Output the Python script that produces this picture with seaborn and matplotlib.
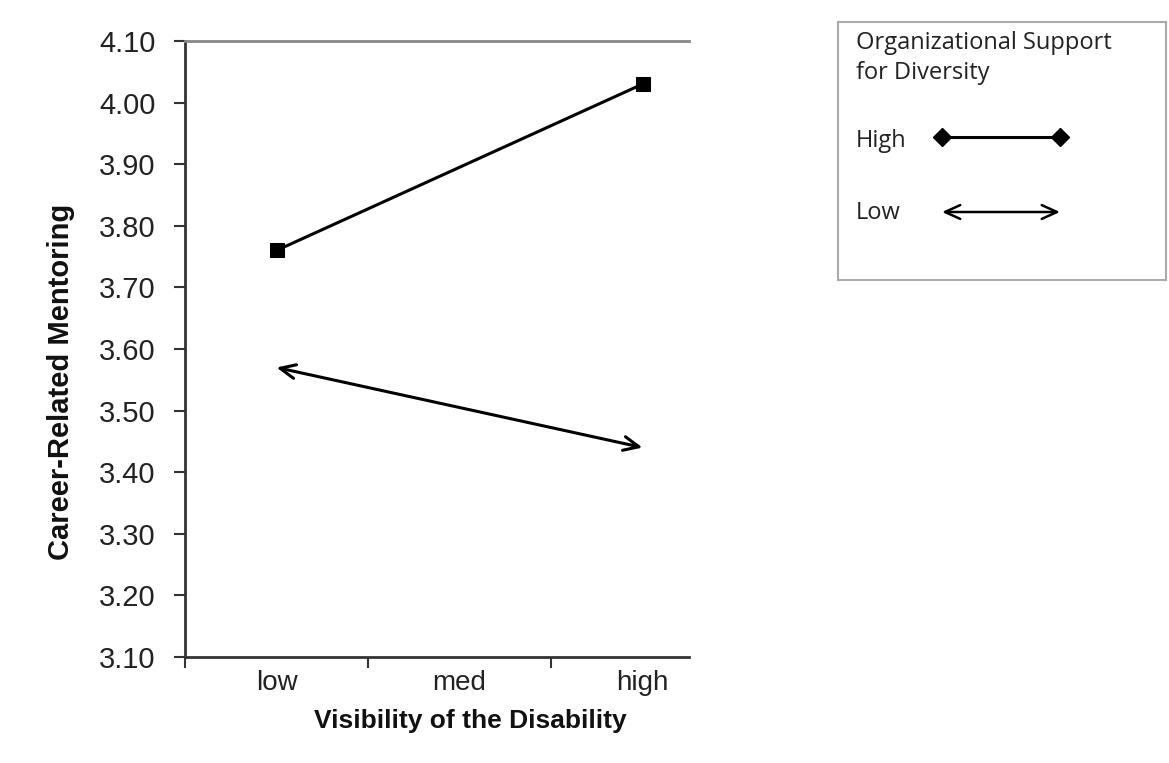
import pandas as pd
import seaborn as sns
from matplotlib import pyplot as plt
from matplotlib.ticker import FixedLocator

# data
visibility = ['low', 'med', 'high']
high_support = [3.76, None, 4.03]
low_support = [3.57, None, 3.44]
y_ticks = [3.10, 3.20, 3.30, 3.40, 3.50, 3.60, 3.70, 3.80, 3.90, 4.00, 4.10]

sns.set_style('white')
plt.rcParams['font.family'] = ['Liberation Sans', 'DejaVu Sans']

df_high = pd.DataFrame({'pos': [0, 2], 'value': [high_support[0], high_support[2]]})

fig = plt.figure(figsize=(11.69, 7.63), dpi=100)
ax = fig.add_axes([185 / 1169, 1 - 657 / 763, 504 / 1169, 616 / 763])

# high support: line with square markers
sns.lineplot(data=df_high, x='pos', y='value', ax=ax, color='black', lw=2.2,
             marker='s', markersize=10, markeredgecolor='black')

# low support: double arrow between the two points
ax.annotate('', xy=(2, low_support[2]), xytext=(0, low_support[0]),
            arrowprops=dict(arrowstyle='<->,head_length=1.1,head_width=0.5',
                            color='black', lw=2.2, shrinkA=0, shrinkB=0))

ax.set_xlim(-0.5, 2.254)
ax.set_ylim(3.10, 4.10)
ax.set_yticks(y_ticks)
ax.set_yticklabels([f'{v:.2f}' for v in y_ticks], fontsize=21, color='#222222')
ax.set_xticks([0, 1, 2])
ax.set_xticklabels(visibility, fontsize=20, color='#222222')
ax.xaxis.set_minor_locator(FixedLocator([-0.5, 0.5, 1.5]))
ax.tick_params(axis='x', which='major', length=0, pad=9)
ax.tick_params(axis='x', which='minor', bottom=True, length=8, width=1.5,
               color='#333333', direction='out')
ax.tick_params(axis='y', length=8, width=1.5, color='#333333', direction='out',
               left=True, pad=13)

ax.set_xlabel('Visibility of the Disability', fontsize=19, fontweight='bold', color='#111111')
ax.set_ylabel('Career-Related Mentoring', fontsize=21, fontweight='bold', color='#111111')
ax.xaxis.set_label_coords(0.567, -0.085)
ax.yaxis.set_label_coords(-0.218, 0.446)

for side in ['left', 'bottom']:
    ax.spines[side].set_color('#333333')
    ax.spines[side].set_linewidth(2)
ax.spines['top'].set_color('#888888')
ax.spines['top'].set_linewidth(2)
ax.spines['right'].set_visible(False)
ax.grid(False)

# legend box drawn by hand
lg = fig.add_axes([838 / 1169, 1 - 280 / 763, 328 / 1169, 258 / 763])
lg.set_xlim(838, 1166)
lg.set_ylim(280, 22)
lg.set_xticks([])
lg.set_yticks([])
for s in lg.spines.values():
    s.set_color('#aaaaaa')
    s.set_linewidth(1.5)
lfont = ['Open Sans', 'DejaVu Sans']
for txt, yy in [('Organizational Support', 43), ('for Diversity', 73), ('High', 141), ('Low', 213)]:
    lg.text(856, yy, txt, fontsize=17, family=lfont, va='center', color='#222222')
lg.plot([942, 1060], [137, 137], color='black', lw=2.2, marker='D', markersize=9)
lg.annotate('', xy=(1060, 212), xytext=(942, 212),
            arrowprops=dict(arrowstyle='<->,head_length=1.1,head_width=0.5',
                            color='black', lw=1.8, shrinkA=0, shrinkB=0))

fig.savefig('out.png', dpi=100)
